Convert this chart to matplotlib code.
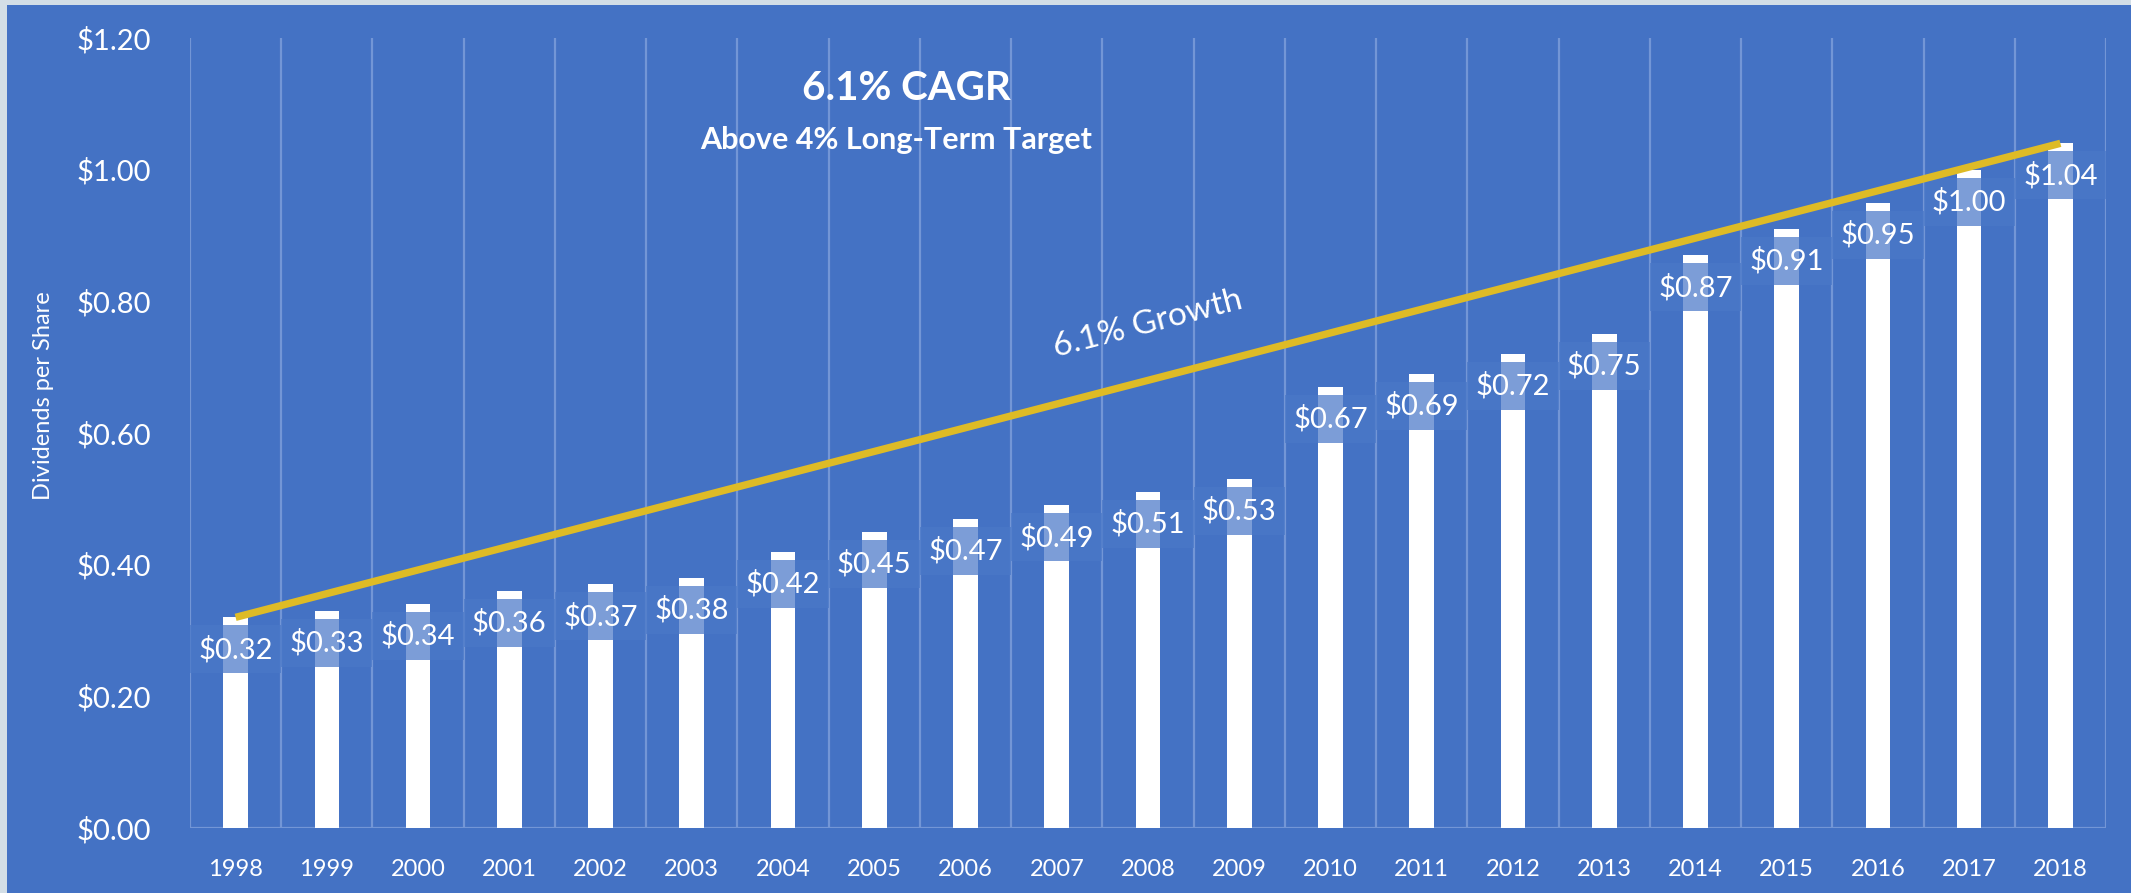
import numpy as np
import matplotlib
matplotlib.use("Agg")
import matplotlib.pyplot as plt
from matplotlib.patches import Rectangle

plt.rcParams['font.family'] = ['Lato', 'DejaVu Sans']

# data
years = ['1998', '1999', '2000', '2001', '2002', '2003', '2004', '2005', '2006', '2007',
         '2008', '2009', '2010', '2011', '2012', '2013', '2014', '2015', '2016', '2017', '2018']
dividends = [0.32, 0.33, 0.34, 0.36, 0.37, 0.38, 0.42, 0.45, 0.47, 0.49,
             0.51, 0.53, 0.67, 0.69, 0.72, 0.75, 0.87, 0.91, 0.95, 1.00, 1.04]
yticks = [0.0, 0.2, 0.4, 0.6, 0.8, 1.0, 1.2]

bg = '#4472C4'
grid_c = '#7396D6'
gold = '#DEBB26'

W, H = 2131, 893
fig = plt.figure(figsize=(W / 100, H / 100), dpi=100)
fig.patch.set_facecolor('#D3DEE6')
fig.patches.append(Rectangle((7 / W, 0), 1, (H - 5) / H, transform=fig.transFigure,
                             facecolor=bg, edgecolor='none', zorder=-10))

ax = fig.add_axes([190 / W, 1 - 828 / H, (2106 - 190) / W, (828 - 38) / H])
ax.set_zorder(1)
ax.set_facecolor('none')
n = len(years)
x = np.arange(n)
ax.set_xlim(-0.5, n - 0.5)
ax.set_ylim(0, 1.2)

# vertical grid at category boundaries
for b in np.arange(-0.5, n, 1.0):
    ax.axvline(b, color=grid_c, lw=1.6, zorder=1)
ax.axhline(0, color=grid_c, lw=1.6, zorder=1)

ax.bar(x, dividends, width=0.27, color='white', zorder=2)

# pixel -> data units on y
ppu = (828 - 38) / 1.2
for i, v in enumerate(dividends):
    top = v - 8 / ppu
    hh = 48 / ppu
    ax.add_patch(Rectangle((i - 0.5, top - hh), 1.0, hh, facecolor='#4A78C8',
                           alpha=0.72, edgecolor='none', zorder=3))
    ax.text(i, top - hh / 2, '${:.2f}'.format(v), ha='center', va='center',
            color='white', fontsize=21, zorder=4)

# growth line from first to last value
ax.plot([x[0], x[-1]], [dividends[0], dividends[-1]], color=gold, lw=5.3, zorder=5,
        solid_capstyle='butt')
p0 = ax.transData.transform((x[0], dividends[0]))
p1 = ax.transData.transform((x[-1], dividends[-1]))
ang = np.degrees(np.arctan2(p1[1] - p0[1], p1[0] - p0[0]))
ax.text(10, 0.766, '6.1% Growth', rotation=ang, rotation_mode='anchor',
        ha='center', va='center', color='white', fontsize=24, zorder=6)

ax.text(906 / W, 1 - 88 / H, '6.1% CAGR', transform=fig.transFigure, ha='center',
        va='center', color='white', fontsize=29, fontweight='bold')
ax.text(896 / W, 1 - 140 / H, 'Above 4% Long-Term Target', transform=fig.transFigure,
        ha='center', va='center', color='white', fontsize=22, fontweight='bold')

ax.set_xticks(x)
ax.set_xticklabels(years, fontsize=17, color='white')
ax.set_yticks(yticks)
ax.set_yticklabels(['${:.2f}'.format(t) for t in yticks], fontsize=21, color='white')
ax.tick_params(axis='both', length=0)
ax.tick_params(axis='y', pad=28)
ax.tick_params(axis='x', pad=22)
for s in ax.spines.values():
    s.set_visible(False)

fig.text(44 / W, 1 - 396 / H, 'Dividends per Share', rotation=90, ha='center',
         va='center', color='white', fontsize=17)

fig.savefig('out.png', dpi=100, facecolor=fig.get_facecolor())
